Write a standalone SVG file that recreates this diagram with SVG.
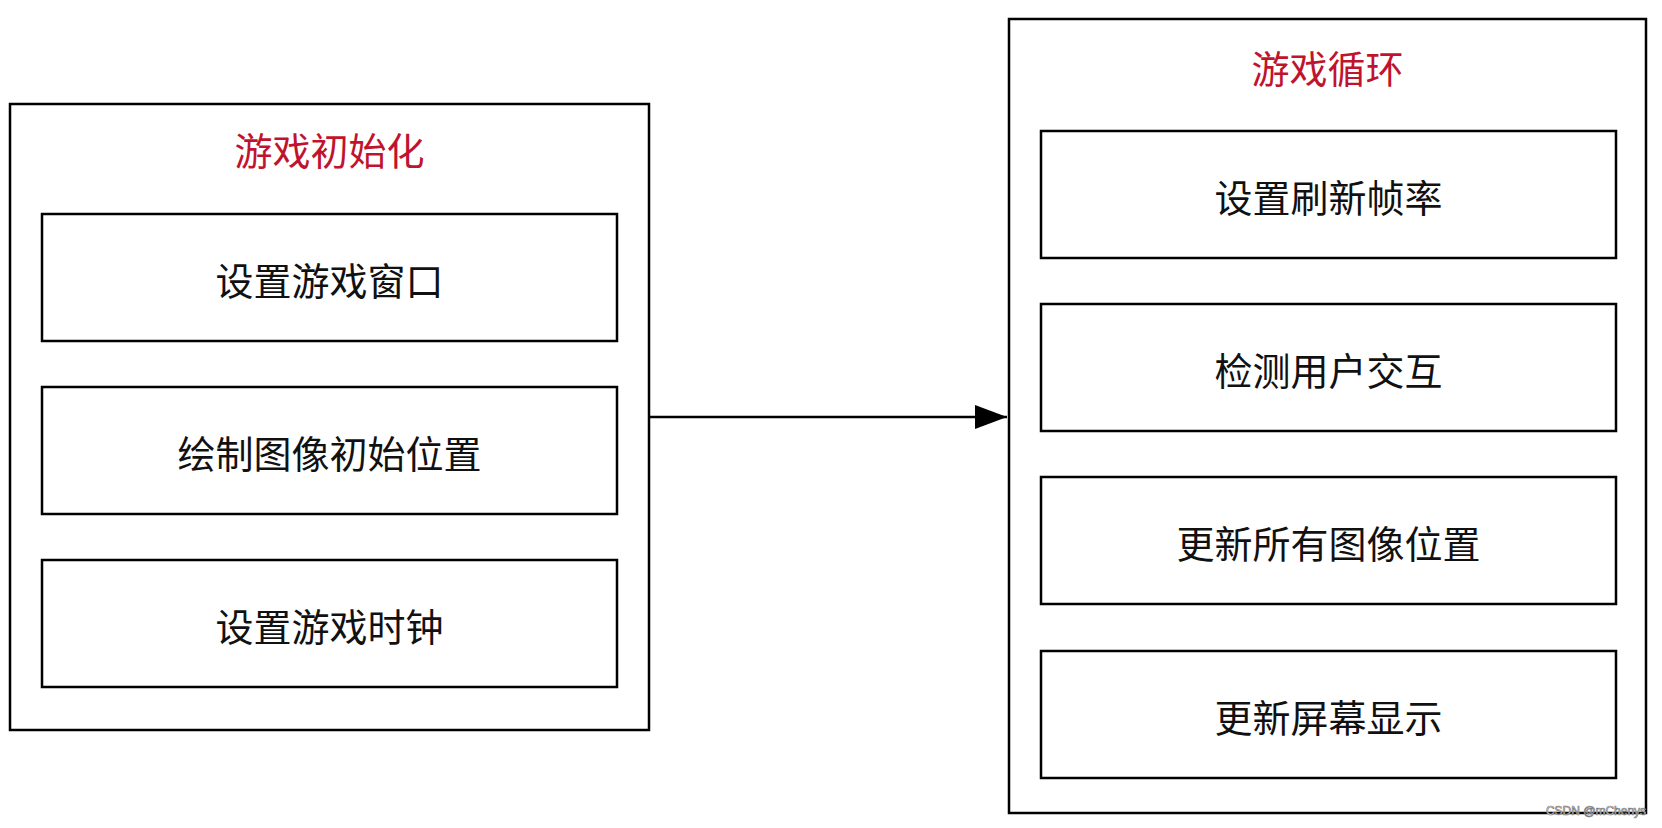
<svg xmlns="http://www.w3.org/2000/svg" width="1662" height="828" viewBox="0 0 1662 828">
<defs>
<style>
.box{fill:#fff;stroke:#000;stroke-width:2.5}
.t{font-family:"Noto Sans CJK SC","Noto Sans",sans-serif;font-size:38px;text-anchor:middle;dominant-baseline:central;fill:#111}
.title{fill:#c0142e}
.conn{stroke:#000;stroke-width:2.5;fill:none}
</style>
<marker id="arr" viewBox="0 0 32 24" refX="32" refY="12" markerWidth="32" markerHeight="24" markerUnits="userSpaceOnUse" orient="auto">
<path d="M0,0 L32,12 L0,24 Z" fill="#000"/>
</marker>
</defs>
<rect width="1662" height="828" fill="#fff"/>
<g id="init">
<rect class="box" x="10" y="104" width="639" height="626"/>
<text class="t title" x="329.5" y="148">游戏初始化</text>
</g>
<g id="init-window">
<rect class="box" x="42" y="214" width="575" height="127"/>
<text class="t" x="329.5" y="278">设置游戏窗口</text>
</g>
<g id="init-draw">
<rect class="box" x="42" y="387" width="575" height="127"/>
<text class="t" x="329.5" y="451">绘制图像初始位置</text>
</g>
<g id="init-clock">
<rect class="box" x="42" y="560" width="575" height="127"/>
<text class="t" x="329.5" y="624">设置游戏时钟</text>
</g>
<g id="loop">
<rect class="box" x="1009" y="19" width="637" height="794"/>
<text class="t title" x="1327.5" y="66">游戏循环</text>
</g>
<g id="loop-fps">
<rect class="box" x="1041" y="131" width="575" height="127"/>
<text class="t" x="1328.5" y="195">设置刷新帧率</text>
</g>
<g id="loop-input">
<rect class="box" x="1041" y="304" width="575" height="127"/>
<text class="t" x="1328.5" y="368">检测用户交互</text>
</g>
<g id="loop-update">
<rect class="box" x="1041" y="477" width="575" height="127"/>
<text class="t" x="1328.5" y="541">更新所有图像位置</text>
</g>
<g id="loop-display">
<rect class="box" x="1041" y="651" width="575" height="127"/>
<text class="t" x="1328.5" y="715">更新屏幕显示</text>
</g>
<g id="connectors">
<line class="conn" x1="649" y1="417" x2="1007" y2="417" marker-end="url(#arr)"/>
</g>
<text x="1596" y="811" font-family="Liberation Sans, sans-serif" font-size="12" text-anchor="middle" dominant-baseline="central" fill="#fff" stroke="#777" stroke-width="0.7">CSDN @mChenys</text>
</svg>
